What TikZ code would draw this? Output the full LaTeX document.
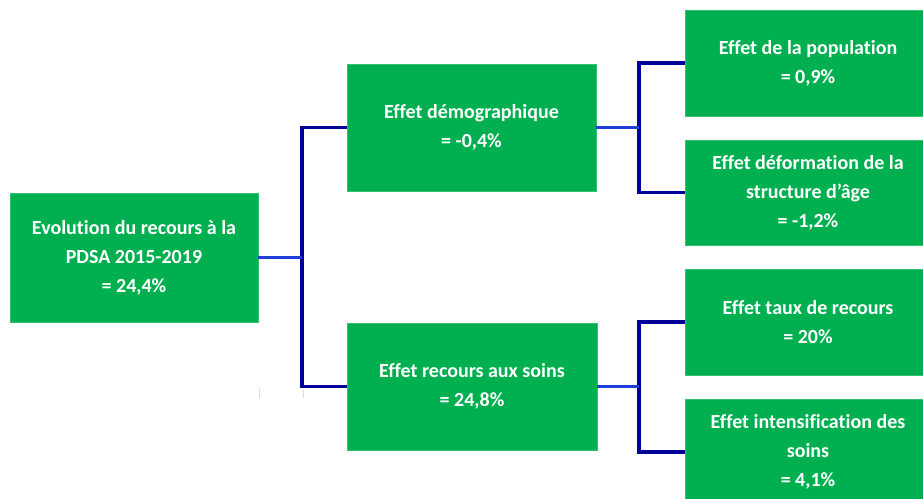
\documentclass[tikz,border=0pt]{standalone}
\usepackage{fontspec}
\setmainfont{Carlito}[Ligatures=ResetAll,RawFeature={-liga;-dlig}]
\definecolor{boxgreen}{RGB}{0,176,80}
\definecolor{linkblue}{RGB}{30,64,214}
\definecolor{linknavy}{RGB}{0,0,150}
\definecolor{tickgrey}{RGB}{220,220,220}
\begin{document}
\begin{tikzpicture}[x=1pt,y=-1pt,
  box/.style={fill=boxgreen,draw=boxgreen!80!white,line width=0.6pt,text=white,align=center,inner sep=0pt,
    font=\fontsize{20}{29}\selectfont\bfseries},
  lb/.style={draw=linkblue,line width=3.2pt},
  nv/.style={draw=linknavy,line width=3.4pt,line join=miter}]
\useasboundingbox (0,0) rectangle (923,498);
\clip (0,0) rectangle (923,498);
\fill[white] (0,0) rectangle (923,498);

\node[box,minimum width=248pt,minimum height=129pt] (root) at (134,257.5) {Evolution du recours à la\\PDSA 2015-2019\\= 24,4\%};
\node[box,minimum width=249pt,minimum height=127pt] (demo) at (471.5,127.5) {Effet démographique\\= -0,4\%};
\node[box,minimum width=250pt,minimum height=127pt] (rec) at (472,386.5) {Effet recours aux soins\\= 24,8\%};
\node[box,minimum width=246pt,minimum height=106pt] (pop) at (808,63) {Effet de la population\\= 0,9\%};
\node[box,minimum width=246pt,minimum height=105pt] (def) at (808,192.5) {Effet déformation de la\\structure d'âge\\= -1,2\%};
\node[box,minimum width=246pt,minimum height=106pt] (taux) at (808,322) {Effet taux de recours\\= 20\%};
\node[box,minimum width=246pt,minimum height=106pt] (int) at (808,452) {Effet intensification des\\soins\\= 4,1\%};

\coordinate (j1) at (302,257.5);
\coordinate (j2) at (639,127.5);
\coordinate (j3) at (639,386.5);

\draw[nv] (demo.west) -| (j1) |- (rec.west);
\draw[lb] (root.east) -- (j1);
\draw[nv] (pop.west) -| (j2) |- (def.west);
\draw[lb] (demo.east) -- (j2);
\draw[nv] (taux.west) -| (j3) |- (int.west);
\draw[lb] (rec.east) -- (j3);

\coordinate (t1a) at (259,388);
\coordinate (t1b) at (259,398);
\coordinate (t2a) at (303,390);
\coordinate (t2b) at (303,398);
\draw[tickgrey,line width=1pt] (t1a) -- (t1b);
\draw[tickgrey,line width=1pt] (t2a) -- (t2b);
\end{tikzpicture}
\end{document}
